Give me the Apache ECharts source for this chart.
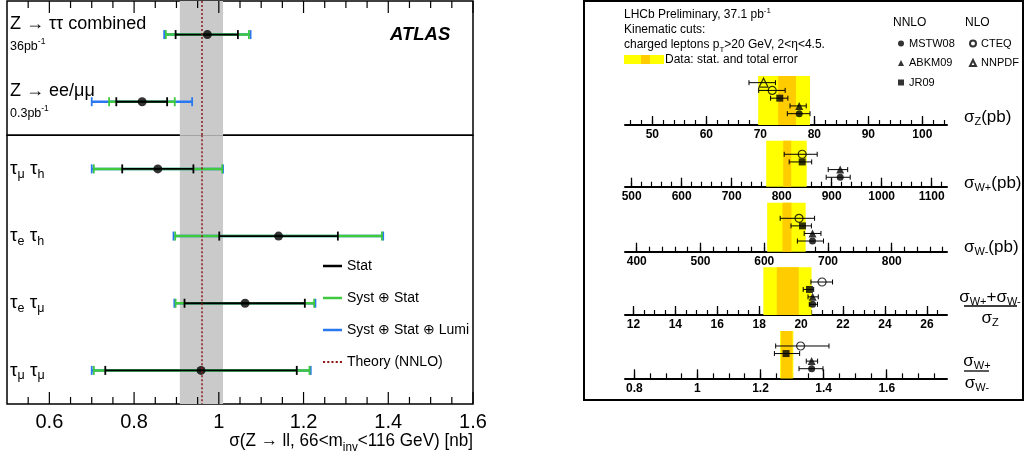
<!DOCTYPE html>
<html>
<head>
<meta charset="utf-8">
<script src="https://cdn.jsdelivr.net/npm/echarts@6/dist/echarts.min.js"></script>
<style>
html, body { margin: 0; padding: 0; background: #fff; }
#chart { width: 1027px; height: 463px; }
</style>
</head>
<body>
<div id="chart"></div>
<script>
// left panel: ATLAS Z cross sections [nb]
const channels = ['Z → ττ combined', 'Z → ee/μμ', 'τμ τh', 'τe τh', 'τe τμ', 'τμ τμ'];
const channelLumi = ['36', '0.3', '', '', '', ''];
const measured = [0.973, 0.819, 0.856, 1.141, 1.062, 0.958];
const statLow  = [0.898, 0.758, 0.772, 1.001, 0.919, 0.732];
const statHigh = [1.045, 0.878, 0.940, 1.281, 1.203, 1.184];
const systLow  = [0.875, 0.741, 0.705, 0.897, 0.898, 0.705];
const systHigh = [1.071, 0.896, 1.008, 1.385, 1.225, 1.214];
const lumiLow  = [0.871, 0.700, 0.700, 0.893, 0.895, 0.700];
const lumiHigh = [1.075, 0.937, 1.010, 1.388, 1.228, 1.217];
const theory = 0.958, theoryLow = 0.908, theoryHigh = 1.010;
const atlasTicks = [0.6, 0.8, 1, 1.2, 1.4, 1.6];
const atlasMinorTicks = [0.55, 0.65, 0.7, 0.75, 0.85, 0.9, 0.95, 1.05, 1.1, 1.15, 1.25, 1.3, 1.35, 1.45, 1.5, 1.55];

// right panel: LHCb W/Z, data bands and predictions
// observables: sigma_Z, sigma_W+, sigma_W-, (W+ + W-)/Z, W+/W-
const dataTotal = [[69.6, 79.2], [769, 850], [604.6, 665], [18.2, 20.5], [1.262, 1.304]];
const dataStat  = [[73.3, 76.6], [803, 819], [628.6, 642.7], [18.84, 19.89], [1.265, 1.301]];
const mstw08     = [77.2, 917, 675.7, 20.55, 1.362];
const mstw08Low  = [75.0, 889, 652, 20.39, 1.322];
const mstw08High = [79.2, 937, 693, 20.78, 1.398];
const abkm09     = [77.2, 917, 675.7, 20.55, 1.362];
const abkm09Low  = [75.5, 893, 662.7, 20.33, 1.345];
const abkm09High = [78.5, 932, 689, 20.82, 1.381];
const jr09       = [73.6, 841, 660, 20.4, 1.281];
const jr09Low    = [71.9, 815, 642, 20.1, 1.244];
const jr09High   = [75.1, 860, 674, 20.6, 1.324];
const cteq       = [72.2, 841, 654.6, 21.0, 1.327];
const cteqLow    = [69.7, 805, 625, 20.47, 1.248];
const cteqHigh   = [74.6, 871, 679, 21.5, 1.417];
const nnpdf      = [70.6, null, null, null, null];
const nnpdfLow   = [67.9, null, null, null, null];
const nnpdfHigh  = [72.8, null, null, null, null];
const rightTicks = [
  [50, 60, 70, 80, 90, 100],
  [500, 600, 700, 800, 900, 1000, 1100],
  [400, 500, 600, 700, 800],
  [12, 14, 16, 18, 20, 22, 24, 26],
  [0.8, 1, 1.2, 1.4, 1.6]
];
const rightMinorStep = [2, 20, 20, 0.5, 0.05];
const rightRange = [[44.94, 104.57], [486.6, 1130.6], [381.6, 886.7], [11.6, 26.96], [0.7705, 1.791]];

const FONT = '"Liberation Sans", Arial, Helvetica, sans-serif';
const BLUE = '#2a78f0', GREEN = '#3fc93f';
const NONE = 'rgba(0,0,0,0)';

function steps(from, to, step) {
  const out = [];
  const n = Math.round((to - from) / step);
  for (let i = 0; i <= n; i++) out.push(+(from + i * step).toFixed(4));
  return out;
}

function barRenderer(color, width, cap, capWidth) {
  return function (params, api) {
    const y = api.value(1);
    const p0 = api.coord([api.value(2), y]);
    const p1 = api.coord([api.value(3), y]);
    const st = { stroke: color, lineWidth: width };
    const cs = { stroke: color, lineWidth: capWidth };
    return {
      type: 'group',
      children: [
        { type: 'line', shape: { x1: p0[0], y1: p0[1], x2: p1[0], y2: p1[1] }, style: st },
        { type: 'line', shape: { x1: p0[0], y1: p0[1] - cap, x2: p0[0], y2: p0[1] + cap }, style: cs },
        { type: 'line', shape: { x1: p1[0], y1: p1[1] - cap, x2: p1[0], y2: p1[1] + cap }, style: cs }
      ]
    };
  };
}

const labelRich = {
  big: { fontSize: 18, fontFamily: FONT, color: '#000', lineHeight: 23 },
  tau: { fontSize: 19, fontFamily: FONT, color: '#000', lineHeight: 23 },
  small: { fontSize: 12.5, fontFamily: FONT, color: '#000', lineHeight: 22 },
  sup: { fontSize: 8.5, fontFamily: FONT, color: '#000', padding: [0, 0, 9, 0] },
  sub: { fontSize: 12.5, fontFamily: FONT, color: '#000', padding: [11, 0, 0, 0] }
};
function channelLabel(i) {
  const name = channels[i];
  if (channelLumi[i]) return '{big|' + name + '}\n{small|' + channelLumi[i] + 'pb}{sup|-1}';
  return name.split(' ').map(p => '{tau|τ}{sub|' + p.slice(1) + '}').join('{tau| }');
}

// grids: 0-1 ATLAS data, 2-6 LHCb sub-panels, 7-9 frames, 10-11 ATLAS label scales
const leftRects = [
  { left: 7, top: 1, width: 466, height: 134.3 },
  { left: 7, top: 135.3, width: 466, height: 268.7 }
];
const grid = leftRects.map(r => Object.assign({ outerBoundsMode: 'none' }, r));
const rightGridTop = [76, 140.7, 202.7, 267.3, 331];
const rightGridHeight = [49, 46, 49, 47.7, 47.3];
const rightY = [[-1.46, 4.86], [-1.23, 4.77], [-1.41, 5.06], [-1.44, 4.98], [-1.27, 4.98]];
for (let k = 0; k < 5; k++) {
  grid.push({ left: 625, top: rightGridTop[k], width: 322, height: rightGridHeight[k], outerBoundsMode: 'none' });
}
const frames = [
  { left: 584, top: 1, width: 439, height: 399, borderWidth: 2 },
  Object.assign({ borderWidth: 1.5 }, leftRects[0]),
  Object.assign({ borderWidth: 1.5 }, leftRects[1])
];
frames.forEach(f => grid.push(Object.assign({ show: true, borderColor: '#000', backgroundColor: NONE, outerBoundsMode: 'none' }, f)));
leftRects.forEach(r => grid.push(Object.assign({ outerBoundsMode: 'none' }, r)));

const xAxis = [
  { type: 'value', gridIndex: 0, min: 0.5, max: 1.6, show: false },
  { type: 'value', gridIndex: 1, min: 0.5, max: 1.6, show: false }
];
for (let k = 0; k < 5; k++) {
  xAxis.push({
    type: 'value', gridIndex: k + 2, position: 'bottom', min: rightRange[k][0], max: rightRange[k][1],
    axisLine: { show: true, onZero: false, lineStyle: { color: '#000', width: 2 } },
    splitLine: { show: false },
    axisTick: { show: true, inside: true, length: 9, customValues: rightTicks[k], lineStyle: { color: '#000', width: 1.3 } },
    axisLabel: { customValues: rightTicks[k], fontSize: 12, fontWeight: 'bold', fontFamily: FONT, color: '#000', margin: 4, formatter: v => String(v) }
  });
}
for (let k = 0; k < 5; k++) {
  const minor = steps(rightTicks[k][0] - 2 * rightMinorStep[k], rightRange[k][1], rightMinorStep[k])
    .filter(v => v > rightRange[k][0] && v < rightRange[k][1]);
  xAxis.push({
    type: 'value', gridIndex: k + 2, position: 'bottom', min: rightRange[k][0], max: rightRange[k][1],
    axisLine: { show: true, onZero: false, lineStyle: { color: NONE, width: 0 } },
    splitLine: { show: false }, axisLabel: { show: false },
    axisTick: { show: true, inside: true, length: 5, customValues: minor, lineStyle: { color: '#000', width: 1.2 } }
  });
}
frames.forEach((f, i) => xAxis.push({ type: 'value', gridIndex: 7 + i, show: false }));
xAxis.push(
  { type: 'value', gridIndex: 10, min: 0.5, max: 1.6, show: false },
  {
    type: 'value', gridIndex: 11, position: 'bottom', min: 0.5, max: 1.6,
    axisLine: { show: false, onZero: false }, axisTick: { show: false }, splitLine: { show: false },
    axisLabel: { customValues: atlasTicks, fontSize: 20, fontFamily: FONT, color: '#000', margin: 8, formatter: v => String(v) }
  }
);

// channel rows: value axes with one label per row index
const rowAxes = [
  { gridIndex: 0, min: -0.5, max: 1.5, rows: [0, 1], first: 0 },
  { gridIndex: 1, min: -0.5, max: 3.5, rows: [0, 1, 2, 3], first: 2 }
];
const yAxis = rowAxes.map(a => ({
  type: 'value', gridIndex: a.gridIndex, inverse: true, min: a.min, max: a.max,
  axisLine: { show: false }, axisTick: { show: false }, splitLine: { show: false },
  axisLabel: {
    inside: true, margin: 3, customValues: a.rows, rich: labelRich,
    formatter: v => channelLabel(Math.round(v) + a.first)
  }
}));
for (let k = 0; k < 5; k++) {
  yAxis.push({ type: 'value', gridIndex: k + 2, min: rightY[k][0], max: rightY[k][1], show: false });
}
frames.forEach((f, i) => yAxis.push({ type: 'value', gridIndex: 7 + i, show: false }));
yAxis.push(
  { type: 'value', gridIndex: 10, min: 0, max: 1, show: false },
  { type: 'value', gridIndex: 11, min: 0, max: 1, show: false }
);

const series = [];
// ATLAS frame ticks, drawn in the data grids through their x scale
function tickSeries(g, edge, dir, values, len) {
  return {
    type: 'custom', xAxisIndex: g, yAxisIndex: g, z: 10, silent: true, clip: false,
    encode: { x: 0, y: 1 },
    data: values.map(v => [v, edge]),
    renderItem: function (params, api) {
      const p = api.coord([api.value(0), api.value(1)]);
      return { type: 'line', shape: { x1: p[0], y1: p[1], x2: p[0], y2: p[1] + dir * len }, style: { stroke: '#000', lineWidth: 1.2 } };
    }
  };
}
series.push(
  tickSeries(0, rowAxes[0].min, 1, atlasTicks, 12),
  tickSeries(0, rowAxes[0].min, 1, atlasMinorTicks, 7),
  tickSeries(1, rowAxes[1].max, -1, atlasTicks, 12),
  tickSeries(1, rowAxes[1].max, -1, atlasMinorTicks, 7)
);

// left panel series, per grid
[[0, 1], [2, 3, 4, 5]].forEach((rows, g) => {
  series.push({
    name: 'Theory (NNLO)', type: 'line', xAxisIndex: g, yAxisIndex: g, data: [], z: 1,
    color: '#8b1a1a', symbol: 'none',
    markArea: { silent: true, itemStyle: { color: '#cacaca' }, data: [[{ xAxis: theoryLow }, { xAxis: theoryHigh }]] },
    markLine: {
      silent: true, symbol: ['none', 'none'], label: { show: false },
      lineStyle: { color: '#8b1a1a', type: [2, 2], width: 1.5 },
      data: [{ xAxis: theory }]
    }
  });
  const bars = [
    ['Syst ⊕ Stat ⊕ Lumi', BLUE, lumiLow, lumiHigh, 2.5],
    ['Syst ⊕ Stat', GREEN, systLow, systHigh, 2.5],
    ['Stat', '#000', statLow, statHigh, 1.8]
  ];
  bars.forEach(([name, color, lo, hi, w]) => {
    series.push({
      name, type: 'custom', xAxisIndex: g, yAxisIndex: g, z: 2,
      itemStyle: { color },
      renderItem: barRenderer(color, w, 4.5, 1.8),
      encode: { x: 0, y: 1 },
      data: rows.map((r, i) => [measured[r], i, lo[r], hi[r]])
    });
  });
  series.push({
    name: 'Measurement', type: 'scatter', xAxisIndex: g, yAxisIndex: g, z: 3,
    symbol: 'circle', symbolSize: 9, itemStyle: { color: '#000' },
    data: rows.map((r, i) => [measured[r], i])
  });
});

// right panel series
const modelDefs = [
  { name: 'MSTW08', c: mstw08, lo: mstw08Low, hi: mstw08High, slot: 0, symbol: 'circle', size: 7, hollow: false },
  { name: 'ABKM09', c: abkm09, lo: abkm09Low, hi: abkm09High, slot: 1, symbol: 'triangle', size: 8, hollow: false },
  { name: 'JR09', c: jr09, lo: jr09Low, hi: jr09High, slot: 2, symbol: 'rect', size: 7, hollow: false },
  { name: 'CTEQ', c: cteq, lo: cteqLow, hi: cteqHigh, slot: 3, symbol: 'circle', size: 8, hollow: true },
  { name: 'NNPDF', c: nnpdf, lo: nnpdfLow, hi: nnpdfHigh, slot: 4, symbol: 'triangle', size: 9, hollow: true }
];
for (let k = 0; k < 5; k++) {
  series.push({
    type: 'line', xAxisIndex: k + 2, yAxisIndex: k + 2, data: [], z: 1, silent: true,
    markArea: {
      silent: true,
      data: [
        [{ xAxis: dataTotal[k][0], itemStyle: { color: '#ffff00' } }, { xAxis: dataTotal[k][1] }],
        [{ xAxis: dataStat[k][0], itemStyle: { color: '#ffcc00' } }, { xAxis: dataStat[k][1] }]
      ]
    }
  });
  const present = modelDefs.filter(m => m.c[k] != null);
  series.push({
    type: 'custom', xAxisIndex: k + 2, yAxisIndex: k + 2, z: 2, silent: true,
    renderItem: barRenderer('#000', 1, 2.5, 1),
    encode: { x: 0, y: 1 },
    data: present.map(m => [m.c[k], m.slot, m.lo[k], m.hi[k]])
  });
  present.forEach(m => {
    series.push({
      name: m.name, type: 'scatter', xAxisIndex: k + 2, yAxisIndex: k + 2, z: 3,
      symbol: m.symbol, symbolSize: m.size,
      itemStyle: m.hollow
        ? { color: NONE, borderColor: '#000', borderWidth: 1.2 }
        : { color: '#000' },
      data: [[m.c[k], m.slot]]
    });
  });
}

const sigRich = {
  s: { fontSize: 17, fontFamily: FONT, color: '#000' },
  sub: { fontSize: 11, fontFamily: FONT, color: '#000', padding: [10, 0, 0, 0] }
};
const headRich = {
  a: { fontSize: 12, fontFamily: FONT, color: '#000' },
  sup: { fontSize: 8, fontFamily: FONT, color: '#000', padding: [0, 0, 8, 0] },
  sub: { fontSize: 8, fontFamily: FONT, color: '#000', padding: [9, 0, 0, 0] }
};
function txt(x, y, text, align, extra) {
  return {
    type: 'text', x, y, silent: true,
    style: Object.assign({ text, align: align || 'left', verticalAlign: 'middle', fontSize: 17, fontFamily: FONT, fill: '#000', rich: sigRich }, extra || {})
  };
}
const graphic = [
  // left axis title, narrowed to the reference's compressed lettering
  {
    type: 'text', x: 473, y: 441, scaleX: 0.9, silent: true,
    style: {
      text: '{t|σ(Z → ll, 66<m}{sub|inv}{t|<116 GeV) [nb]}', align: 'right', verticalAlign: 'middle',
      rich: {
        t: { fontSize: 19, fontFamily: FONT, color: '#000' },
        sub: { fontSize: 13, fontFamily: FONT, color: '#000', padding: [12, 0, 0, 0] }
      }
    }
  },
  txt(624, 15, '{a|LHCb Preliminary, 37.1 pb}{sup|-1}', 'left', { rich: headRich }),
  txt(624, 30, '{a|Kinematic cuts:}', 'left', { rich: headRich }),
  txt(624, 45, '{a|charged leptons p}{sub|T}{a|>20 GeV, 2<η<4.5.}', 'left', { rich: headRich }),
  { type: 'rect', silent: true, shape: { x: 624, y: 55, width: 40, height: 9 }, style: { fill: '#ffff00' } },
  { type: 'rect', silent: true, shape: { x: 641, y: 55, width: 9, height: 9 }, style: { fill: '#ffcc00' } },
  txt(665, 60, '{a|Data: stat. and total error}', 'left', { rich: headRich }),
  txt(893, 23, '{a|NNLO}', 'left', { rich: headRich }),
  txt(965, 23, '{a|NLO}', 'left', { rich: headRich }),
  txt(964, 117, '{s|σ}{sub|Z}{s|(pb)}'),
  txt(964, 183, '{s|σ}{sub|W+}{s|(pb)}'),
  txt(964, 247, '{s|σ}{sub|W-}{s|(pb)}'),
  txt(990, 297, '{s|σ}{sub|W+}{s|+σ}{sub|W-}', 'center'),
  { type: 'line', silent: true, shape: { x1: 964, y1: 306, x2: 1017, y2: 306 }, style: { stroke: '#000', lineWidth: 1.3 } },
  txt(990, 318, '{s|σ}{sub|Z}', 'center'),
  txt(977, 361, '{s|σ}{sub|W+}', 'center'),
  { type: 'line', silent: true, shape: { x1: 964, y1: 371, x2: 989, y2: 371 }, style: { stroke: '#000', lineWidth: 1.3 } },
  txt(977, 383, '{s|σ}{sub|W-}', 'center')
];

const legendText = { fontFamily: FONT, color: '#000' };
const option = {
  animation: false,
  backgroundColor: '#fff',
  textStyle: { fontFamily: FONT },
  title: {
    text: 'ATLAS', left: 390, top: 25, padding: 0,
    textStyle: { fontSize: 18.5, fontWeight: 'bold', fontStyle: 'italic', fontFamily: FONT, color: '#000' }
  },
  legend: [
    {
      orient: 'vertical', left: 323, top: 256, padding: 0, itemWidth: 19, itemHeight: 2.5, itemGap: 12,
      selectedMode: false,
      textStyle: Object.assign({ fontSize: 14, lineHeight: 20 }, legendText),
      data: [
        { name: 'Stat', icon: 'rect', itemStyle: { color: '#000' } },
        { name: 'Syst ⊕ Stat', icon: 'rect', itemStyle: { color: GREEN } },
        { name: 'Syst ⊕ Stat ⊕ Lumi', icon: 'rect', itemStyle: { color: BLUE } },
        { name: 'Theory (NNLO)', icon: 'path://M0,0H2V2H0Z M4,0H6V2H4Z M8,0H10V2H8Z M12,0H14V2H12Z M16,0H18V2H16Z', itemStyle: { color: '#8b1a1a' } }
      ]
    },
    {
      orient: 'vertical', left: 898, top: 37, padding: 0, itemWidth: 6, itemHeight: 6, itemGap: 6.5,
      selectedMode: false,
      textStyle: Object.assign({ fontSize: 11, lineHeight: 13 }, legendText),
      data: ['MSTW08', 'ABKM09', 'JR09']
    },
    {
      orient: 'vertical', left: 969, top: 37, padding: 0, itemWidth: 6, itemHeight: 6, itemGap: 6.5,
      selectedMode: false,
      textStyle: Object.assign({ fontSize: 11, lineHeight: 13 }, legendText),
      data: ['CTEQ', 'NNPDF']
    }
  ],
  grid, xAxis, yAxis, series, graphic
};

const chart = echarts.init(document.getElementById('chart'));
chart.setOption(option);
window.addEventListener('resize', function () {
  chart.resize();
});
</script>
</body>
</html>
